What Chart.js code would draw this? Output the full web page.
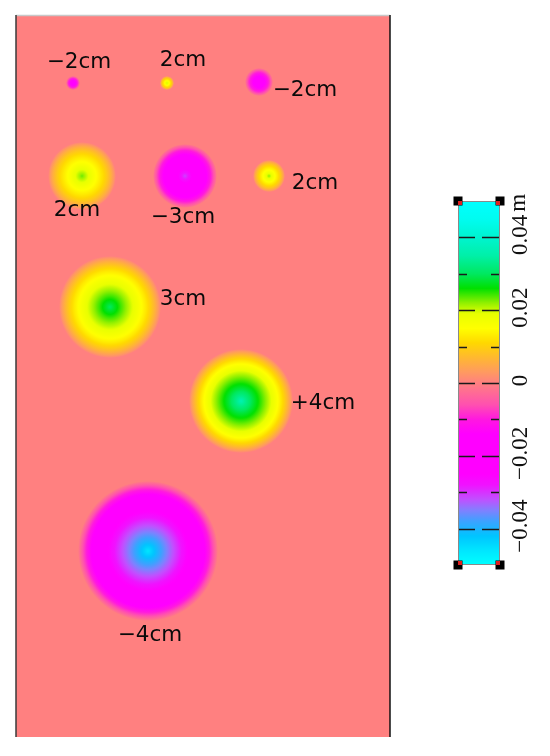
<!DOCTYPE html>
<html>
<head>
<meta charset="utf-8">
<script src="https://cdn.jsdelivr.net/npm/chart.js@4/dist/chart.umd.min.js"></script>
<style>
  html, body { margin: 0; padding: 0; background: #ffffff; }
  #wrap { position: relative; width: 550px; height: 756px; overflow: hidden; }
  #main { position: absolute; left: 0; top: 0; }
  #cbar { position: absolute; left: 440px; top: 185px; }
</style>
</head>
<body>
<div id="wrap">
  <canvas id="main" width="550" height="756"></canvas>
  <canvas id="cbar" width="110" height="400"></canvas>
</div>
<script>
// ---------------- data ----------------
// field extent (x across, y down), in the same units as the blob positions
const fieldXMax = 374;
const fieldYMax = 722;

const blobLabels = ['−2cm', '2cm', '−2cm', '2cm', '−3cm', '2cm', '3cm', '+4cm', '−4cm'];
const blobX      = [57, 151, 243, 66, 169, 253, 94, 225, 132];
const blobY      = [68, 68, 67, 161, 161, 161, 292, 386, 536];
const blobRadius = [7, 7, 14, 34, 32, 16, 51, 52, 70];
// peak displacement at the centre of each blob (m)
const blobPeak   = [-0.020, 0.021, -0.021, 0.023, -0.031, 0.022, 0.030, 0.036, -0.046];
// label anchor positions (field units)
const labelX     = [63, 167, 289, 61, 167, 299, 167, 307, 134];
const labelY     = [45, 43, 73, 193, 200, 166, 282, 386, 618];

// colour bar
const colorbarMin = -0.05;
const colorbarMax = 0.05;
const colorbarTicks = [-0.04, -0.02, 0, 0.02, 0.04];
const colorbarMinorTicks = [-0.03, -0.01, 0.01, 0.03];
const colorbarUnit = 'm';

// ---------------- colour map ----------------
const cmapStops = [
  [-0.050, '#00ffff'],
  [-0.046, '#00e6ff'],
  [-0.042, '#00c4ff'],
  [-0.038, '#3ca2ff'],
  [-0.035, '#8080ff'],
  [-0.032, '#c050ff'],
  [-0.028, '#f012ff'],
  [-0.025, '#ff00ff'],
  [-0.014, '#ff00ff'],
  [-0.010, '#ff18e0'],
  [-0.006, '#ff50b0'],
  [0.000, '#ff8080'],
  [0.003, '#ff9a60'],
  [0.007, '#ffb830'],
  [0.011, '#ffd800'],
  [0.015, '#ffff00'],
  [0.019, '#e8ff00'],
  [0.022, '#90f000'],
  [0.026, '#00e000'],
  [0.030, '#00e860'],
  [0.035, '#00f0a8'],
  [0.040, '#00f4d0'],
  [0.045, '#00fcf0'],
  [0.050, '#00ffff']
];
const cmapRGB = cmapStops.map(([v, h]) => [v, [parseInt(h.slice(1,3),16), parseInt(h.slice(3,5),16), parseInt(h.slice(5,7),16)]]);
function cmap(v) {
  if (v <= cmapRGB[0][0]) v = cmapRGB[0][0];
  if (v >= cmapRGB[cmapRGB.length-1][0]) v = cmapRGB[cmapRGB.length-1][0];
  for (let k = 0; k < cmapRGB.length - 1; k++) {
    const [v0, c0] = cmapRGB[k], [v1, c1] = cmapRGB[k+1];
    if (v >= v0 && v <= v1) {
      const f = (v1 === v0) ? 0 : (v - v0) / (v1 - v0);
      const c = c0.map((a, j) => Math.round(a + (c1[j] - a) * f));
      return `rgb(${c[0]},${c[1]},${c[2]})`;
    }
  }
  return 'rgb(255,128,128)';
}
// radial shape of a blob: peaked centre, plateau, soft rim
function profile(t) {
  return 0.5 * (1 - Math.pow(t, 4)) + 0.5 * Math.pow(1 - t, 2);
}

function radiusPx(chart, i) {
  const xs = chart.scales.x;
  return Math.abs(xs.getPixelForValue(blobX[i] + blobRadius[i]) - xs.getPixelForValue(blobX[i]));
}

// ---------------- main chart ----------------
const fieldPlugin = {
  id: 'field',
  beforeDatasetsDraw(chart) {
    const { ctx, chartArea: a } = chart;
    ctx.save();
    ctx.fillStyle = cmap(0);
    ctx.fillRect(a.left, a.top, a.width, a.height);
    ctx.lineWidth = 1.5;
    ctx.strokeStyle = '#c8c8c8';
    ctx.beginPath(); ctx.moveTo(a.left, a.top + 0.5); ctx.lineTo(a.right, a.top + 0.5); ctx.stroke();
    ctx.strokeStyle = '#3a3a3a';
    ctx.beginPath(); ctx.moveTo(a.left, a.top); ctx.lineTo(a.left, a.bottom); ctx.stroke();
    ctx.strokeStyle = '#111111';
    ctx.beginPath(); ctx.moveTo(a.right, a.top); ctx.lineTo(a.right, a.bottom); ctx.stroke();
    ctx.restore();
  },
  afterDatasetsDraw(chart) {
    const { ctx } = chart;
    const xs = chart.scales.x, ys = chart.scales.y;
    ctx.save();
    ctx.fillStyle = '#0a0a0a';
    ctx.font = '21.5px "DejaVu Sans"';
    ctx.textAlign = 'center';
    ctx.textBaseline = 'alphabetic';
    blobLabels.forEach((t, i) => {
      const x = xs.getPixelForValue(labelX[i]);
      const y = ys.getPixelForValue(labelY[i]);
      ctx.fillText(t, x, y + 8);
    });
    ctx.restore();
  }
};

new Chart(document.getElementById('main'), {
  type: 'scatter',
  data: {
    datasets: [{
      data: blobX.map((x, i) => ({ x: x, y: blobY[i] })),
      showLine: false,
      pointBorderWidth: 0,
      pointRadius: (ctx) => (ctx.type === 'data' && ctx.chart.chartArea) ? radiusPx(ctx.chart, ctx.dataIndex) : 0,
      pointHoverRadius: (ctx) => (ctx.type === 'data' && ctx.chart.chartArea) ? radiusPx(ctx.chart, ctx.dataIndex) : 0,
      pointBackgroundColor: (ctx) => {
        const chart = ctx.chart;
        if (ctx.type !== 'data' || !chart.chartArea) return 'rgba(0,0,0,0)';
        const i = ctx.dataIndex;
        const cx = chart.scales.x.getPixelForValue(blobX[i]);
        const cy = chart.scales.y.getPixelForValue(blobY[i]);
        const r = radiusPx(chart, i);
        const g = chart.ctx.createRadialGradient(cx, cy, 0, cx, cy, r);
        const N = 48;
        for (let k = 0; k <= N; k++) {
          const t = k / N;
          g.addColorStop(t, cmap(blobPeak[i] * profile(t)));
        }
        return g;
      }
    }]
  },
  options: {
    responsive: false,
    animation: false,
    events: [],
    layout: { padding: { left: 16, top: 15, right: 160, bottom: 19 } },
    plugins: { legend: { display: false }, tooltip: { enabled: false } },
    scales: {
      x: { type: 'linear', min: 0, max: fieldXMax, display: false },
      y: { type: 'linear', min: 0, max: fieldYMax, reverse: true, display: false }
    }
  },
  plugins: [fieldPlugin]
});

// ---------------- colour bar ----------------
const cbFont = { family: '"Liberation Serif"', size: 23 };
const cbLabelOffset = -2.5;
function fmtTick(v) {
  if (Math.abs(v) < 1e-9) return '0';
  return (v < 0 ? '−' : '') + Math.abs(v).toFixed(2);
}

const colorbarPlugin = {
  id: 'cbdeco',
  afterDatasetsDraw(chart) {
    const { ctx, chartArea: a } = chart;
    const ys = chart.scales.y;
    ctx.save();
    ctx.strokeStyle = '#8a8a8a';
    ctx.lineWidth = 1;
    ctx.strokeRect(a.left + 0.5, a.top + 0.5, a.width - 1, a.height - 1);
    ctx.strokeStyle = '#1a1a1a';
    ctx.lineWidth = 1.6;
    colorbarTicks.forEach(v => {
      const y = Math.round(ys.getPixelForValue(v)) + 0.5;
      ctx.beginPath();
      ctx.moveTo(a.left + 1, y); ctx.lineTo(a.left + 17, y);
      ctx.moveTo(a.left + 24, y); ctx.lineTo(a.right - 1, y);
      ctx.stroke();
    });
    colorbarMinorTicks.forEach(v => {
      const y = Math.round(ys.getPixelForValue(v)) + 0.5;
      ctx.beginPath();
      ctx.moveTo(a.left + 1, y); ctx.lineTo(a.left + 9, y);
      ctx.moveTo(a.right - 9, y); ctx.lineTo(a.right - 1, y);
      ctx.stroke();
    });
    [[a.left, a.top, 1, 1], [a.right, a.top, -1, 1], [a.left, a.bottom, 1, -1], [a.right, a.bottom, -1, -1]].forEach(([x, y, sx, sy]) => {
      ctx.fillStyle = '#000000';
      ctx.fillRect(Math.round(x) - 4.5, Math.round(y) - 4.5, 9, 9);
      ctx.fillStyle = '#e02020';
      const rx = sx > 0 ? Math.round(x) : Math.round(x) - 4;
      const ry = sy > 0 ? Math.round(y) : Math.round(y) - 4;
      ctx.fillRect(rx, ry, 4, 4);
    });
    ctx.font = cbFont.size + 'px ' + cbFont.family;
    const topVal = colorbarTicks[colorbarTicks.length - 1];
    const wTop = ctx.measureText(fmtTick(topVal)).width;
    const wUnit = ctx.measureText(colorbarUnit).width;
    const yc = ys.getPixelForValue(topVal) + cbLabelOffset - wTop / 2 - 3 - wUnit / 2;
    ctx.translate(a.right + 19, yc);
    ctx.rotate(-Math.PI / 2);
    ctx.fillStyle = '#111111';
    ctx.textAlign = 'center';
    ctx.textBaseline = 'middle';
    ctx.fillText(colorbarUnit, 0, 0);
    ctx.restore();
  }
};

new Chart(document.getElementById('cbar'), {
  type: 'bar',
  data: {
    labels: [''],
    datasets: [{
      data: [[colorbarMin, colorbarMax]],
      borderWidth: 0,
      barPercentage: 1,
      categoryPercentage: 1,
      backgroundColor: (ctx) => {
        const chart = ctx.chart;
        const a = chart.chartArea;
        if (!a) return 'rgba(0,0,0,0)';
        const g = chart.ctx.createLinearGradient(0, a.bottom, 0, a.top);
        cmapStops.forEach(([v, c]) => g.addColorStop((v - colorbarMin) / (colorbarMax - colorbarMin), c));
        return g;
      }
    }]
  },
  options: {
    responsive: false,
    animation: false,
    events: [],
    layout: { padding: { left: 18, top: 16, right: 0, bottom: 20 } },
    plugins: { legend: { display: false }, tooltip: { enabled: false } },
    scales: {
      x: { display: false },
      y: {
        position: 'right',
        min: colorbarMin,
        max: colorbarMax,
        grid: { display: false },
        border: { display: false },
        afterBuildTicks: (s) => { s.ticks = colorbarTicks.map(v => ({ value: v })); },
        afterFit: (s) => { s.width = 50; s.paddingTop = 0; s.paddingBottom = 0; },
        ticks: {
          autoSkip: false,
          minRotation: 90,
          maxRotation: 90,
          crossAlign: 'center',
          padding: -14,
          labelOffset: cbLabelOffset,
          color: '#111111',
          font: cbFont,
          callback: (v) => fmtTick(v)
        }
      }
    }
  },
  plugins: [colorbarPlugin]
});
</script>
</body>
</html>
